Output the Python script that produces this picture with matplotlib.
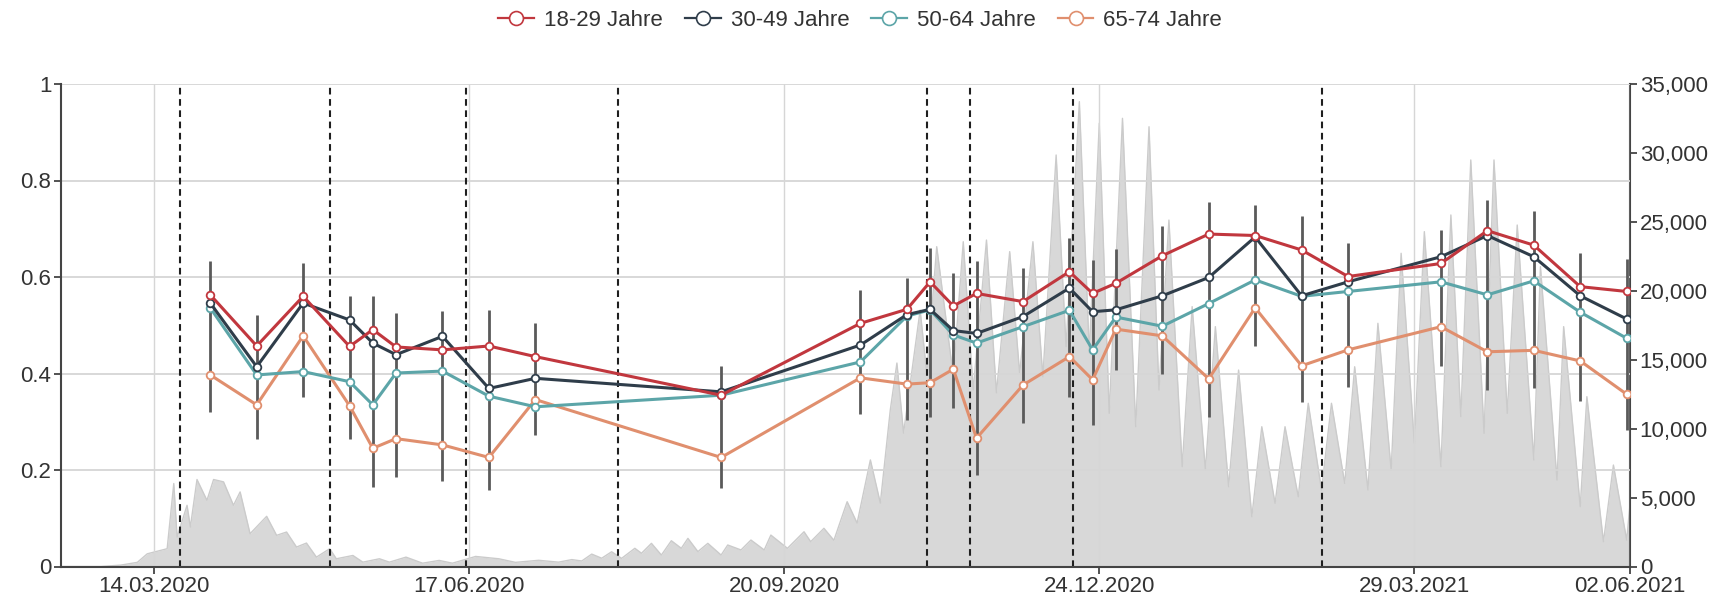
import matplotlib
matplotlib.use("Agg")
import matplotlib.pyplot as plt
from matplotlib.lines import Line2D
from matplotlib.ticker import FuncFormatter, MultipleLocator
import pandas as pd

plt.rcParams["font.family"] = ["Liberation Sans", "DejaVu Sans"]

# ---------- data ----------
survey_dates = pd.to_datetime([
    "2020-03-31", "2020-04-14", "2020-04-28", "2020-05-12", "2020-05-19",
    "2020-05-26", "2020-06-09", "2020-06-23", "2020-07-07", "2020-09-01",
    "2020-10-13", "2020-10-27", "2020-11-03", "2020-11-10", "2020-11-17",
    "2020-12-01", "2020-12-15", "2020-12-22", "2020-12-29", "2021-01-12",
    "2021-01-26", "2021-02-09", "2021-02-23", "2021-03-09", "2021-04-06",
    "2021-04-20", "2021-05-04", "2021-05-18", "2021-06-01",
])

age_18_29 = [0.563, 0.457, 0.560, 0.456, 0.491, 0.455, 0.449, 0.457, 0.435, 0.355,
             0.504, 0.533, 0.590, 0.540, 0.566, 0.549, 0.611, 0.566, 0.587, 0.644,
             0.689, 0.686, 0.656, 0.601, 0.628, 0.696, 0.666, 0.580, 0.570]
age_30_49 = [0.546, 0.414, 0.546, 0.511, 0.463, 0.439, 0.477, 0.369, 0.390, 0.362,
             0.459, 0.522, 0.533, 0.489, 0.483, 0.518, 0.577, 0.528, 0.532, 0.561,
             0.599, 0.683, 0.561, 0.590, 0.642, 0.686, 0.642, 0.561, 0.513]
age_50_64 = [0.536, 0.397, 0.404, 0.383, 0.335, 0.401, 0.405, 0.353, 0.331, 0.355,
             0.424, 0.519, 0.532, 0.480, 0.463, 0.497, 0.531, 0.449, 0.517, 0.498,
             0.545, 0.594, 0.560, 0.570, 0.590, 0.563, 0.592, 0.527, 0.473]
age_65_74 = [0.397, 0.335, 0.478, 0.333, 0.245, 0.265, 0.252, 0.226, 0.346, 0.226,
             0.391, 0.378, 0.381, 0.409, 0.266, 0.376, 0.435, 0.387, 0.492, 0.478,
             0.389, 0.536, 0.416, 0.449, 0.497, 0.445, 0.448, 0.426, 0.357]

# span of the confidence bars at each survey date
ci_low = [0.321, 0.265, 0.351, 0.265, 0.165, 0.186, 0.177, 0.158, 0.272, 0.162,
          0.317, 0.304, 0.310, 0.328, 0.189, 0.297, 0.352, 0.293, 0.407, 0.400,
          0.309, 0.458, 0.341, 0.372, 0.416, 0.366, 0.370, 0.344, 0.283]
ci_high = [0.633, 0.522, 0.628, 0.560, 0.560, 0.525, 0.529, 0.531, 0.505, 0.416,
           0.574, 0.598, 0.660, 0.608, 0.633, 0.619, 0.681, 0.636, 0.657, 0.706,
           0.755, 0.750, 0.726, 0.671, 0.698, 0.760, 0.737, 0.649, 0.637]

event_dates = pd.to_datetime([
    "2020-03-22", "2020-05-06", "2020-06-16", "2020-08-01",
    "2020-11-02", "2020-11-15", "2020-12-16", "2021-03-01",
])

# daily new cases (right axis), peaks and troughs
case_dates = pd.to_datetime([
    "2020-02-15", "2020-02-27", "2020-03-04", "2020-03-09", "2020-03-12",
    "2020-03-18", "2020-03-20", "2020-03-21", "2020-03-24", "2020-03-25",
    "2020-03-27", "2020-03-30", "2020-04-01", "2020-04-04", "2020-04-07",
    "2020-04-09", "2020-04-12", "2020-04-17", "2020-04-20", "2020-04-23",
    "2020-04-26", "2020-04-29", "2020-05-02", "2020-05-06", "2020-05-08",
    "2020-05-13", "2020-05-16", "2020-05-21", "2020-05-24", "2020-05-29",
    "2020-06-03", "2020-06-08", "2020-06-12", "2020-06-19", "2020-06-26",
    "2020-07-01", "2020-07-08", "2020-07-14", "2020-07-18", "2020-07-21",
    "2020-07-24", "2020-07-27", "2020-07-30", "2020-08-02", "2020-08-06",
    "2020-08-08", "2020-08-11", "2020-08-14", "2020-08-17", "2020-08-20",
    "2020-08-22", "2020-08-25", "2020-08-28", "2020-09-01", "2020-09-03",
    "2020-09-07", "2020-09-10", "2020-09-14", "2020-09-16", "2020-09-21",
    "2020-09-26", "2020-09-28", "2020-10-02", "2020-10-05", "2020-10-09",
    "2020-10-12", "2020-10-16", "2020-10-19", "2020-10-22", "2020-10-24",
    "2020-10-26", "2020-10-31", "2020-11-02", "2020-11-05", "2020-11-10",
    "2020-11-13", "2020-11-16", "2020-11-20", "2020-11-23", "2020-11-27",
    "2020-11-30", "2020-12-04", "2020-12-07", "2020-12-11", "2020-12-14",
    "2020-12-18", "2020-12-21", "2020-12-24", "2020-12-27", "2020-12-31",
    "2021-01-04", "2021-01-08", "2021-01-11", "2021-01-14", "2021-01-18",
    "2021-01-21", "2021-01-25", "2021-01-28", "2021-02-01", "2021-02-04",
    "2021-02-08", "2021-02-11", "2021-02-15", "2021-02-18", "2021-02-22",
    "2021-02-25", "2021-03-01", "2021-03-04", "2021-03-08", "2021-03-11",
    "2021-03-15", "2021-03-18", "2021-03-22", "2021-03-25", "2021-03-29",
    "2021-04-01", "2021-04-06", "2021-04-09", "2021-04-12", "2021-04-15",
    "2021-04-19", "2021-04-22", "2021-04-26", "2021-04-29", "2021-05-04",
    "2021-05-06", "2021-05-11", "2021-05-13", "2021-05-18", "2021-05-20",
    "2021-05-25", "2021-05-28", "2021-06-01", "2021-06-02",
])
case_values = [
    0, 0, 100, 300, 920,
    1290, 6020, 2130, 4440, 2860,
    6310, 4800, 6310, 6140, 4440,
    5410, 2380, 3640, 2260, 2500,
    1410, 1700, 680, 1290, 560,
    800, 315, 560, 315, 680,
    240, 440, 240, 730, 560,
    300, 450, 315, 500, 400,
    900, 600, 1070, 590, 1320,
    960, 1680, 830, 1870, 1320,
    2040, 1080, 1680, 830, 1560,
    1200, 1920, 1200, 2280, 1320,
    2520, 1800, 2770, 1900, 4700,
    3150, 7730, 4600, 11350, 14760,
    9680, 18600, 14000, 23200, 13800,
    23560, 12800, 23680, 12600, 22840,
    14010, 23560, 13770, 29850, 15950,
    33720, 15500, 32150, 11110, 32510,
    10140, 31900, 12800, 25130, 7240,
    18850, 7000, 17400, 5790, 14250,
    3610, 10140, 4580, 10140, 5060,
    11840, 5550, 11840, 6030, 14490,
    5550, 17640, 7000, 22720, 8940,
    24290, 7240, 25500, 10870, 29490,
    9660, 29490, 11110, 24770, 7730,
    21750, 6270, 17400, 4340, 12320,
    1800, 7360, 1920, 4500,
]

tick_dates = pd.to_datetime(["2020-03-14", "2020-06-17", "2020-09-20",
                             "2020-12-24", "2021-03-29", "2021-06-02"])
tick_labels = ["14.03.2020", "17.06.2020", "20.09.2020",
               "24.12.2020", "29.03.2021", "02.06.2021"]

series = [
    ("18-29 Jahre", age_18_29, "#c1373e"),
    ("30-49 Jahre", age_30_49, "#2f3d4a"),
    ("50-64 Jahre", age_50_64, "#5ca5a8"),
    ("65-74 Jahre", age_65_74, "#e08f6e"),
]

# ---------- figure ----------
W, H = 1731, 602
fig = plt.figure(figsize=(W / 100, H / 100), dpi=100)
fig.patch.set_facecolor("white")
ax = fig.add_axes([61 / W, 35.5 / H, (1630 - 61) / W, (566.5 - 84) / H])
ax2 = ax.twinx()
ax.set_zorder(2)
ax2.set_zorder(1)
ax.patch.set_visible(False)

axis_col = "#444444"
text_col = "#333333"

# cases area on the right axis
ax2.fill_between(case_dates, case_values, 0, color="#d8d8d8", lw=0)
ax2.plot(case_dates, case_values, color="#cbcbcb", lw=1.0)
ax2.set_ylim(0, 35000)
ax2.yaxis.set_major_locator(MultipleLocator(5000))
ax2.yaxis.set_major_formatter(FuncFormatter(lambda v, p: f"{int(v):,}"))

# left axis
ax.set_ylim(0, 1)
ax.set_xlim(pd.Timestamp("2020-02-15"), pd.Timestamp("2021-06-02"))
ax.yaxis.set_major_locator(MultipleLocator(0.2))
ax.yaxis.set_major_formatter(FuncFormatter(lambda v, p: f"{v:g}"))
ax.set_xticks(tick_dates)
ax.set_xticklabels(tick_labels)

ax.grid(True, axis="y", color="#d6d6d6", lw=1.3, zorder=0)
ax.grid(True, axis="x", color="#d6d6d6", lw=1.0, zorder=0)
ax.set_axisbelow(True)

for d in event_dates:
    ax.axvline(d, color="#1f1f1f", lw=1.5, ls=(0, (3.2, 2.2)), zorder=2)

ax.vlines(survey_dates, ci_low, ci_high, color="#5a5a5a", lw=2.0, zorder=3)

for name, vals, col in reversed(series):
    ax.plot(survey_dates, vals, color=col, lw=2.2, marker="o", ms=5.5,
            mfc="white", mec=col, mew=1.3, zorder=4)

for s in ["top", "right"]:
    ax.spines[s].set_visible(False)
for s in ["top", "left", "bottom"]:
    ax2.spines[s].set_visible(False)
for sp in [ax.spines["left"], ax.spines["bottom"], ax2.spines["right"]]:
    sp.set_color(axis_col)
    sp.set_linewidth(1.5)

ax.tick_params(axis="both", length=5, width=1.3, color=axis_col,
               labelsize=16, labelcolor=text_col, pad=2)
ax2.tick_params(axis="y", length=5, width=1.3, color=axis_col,
                labelsize=16, labelcolor=text_col, pad=2)

handles = [Line2D([0], [0], color=c, lw=1.6, marker="o", ms=10,
                  mfc="white", mec=c, mew=1.2) for _, _, c in series]
fig.legend(handles, [n for n, _, _ in series], loc="center",
           bbox_to_anchor=(0.497, 0.966), ncol=4, frameon=False,
           fontsize=16, handlelength=1.6, handletextpad=0.45,
           columnspacing=1.0, labelcolor=text_col)

fig.savefig("out.png", dpi=100, facecolor="white")
